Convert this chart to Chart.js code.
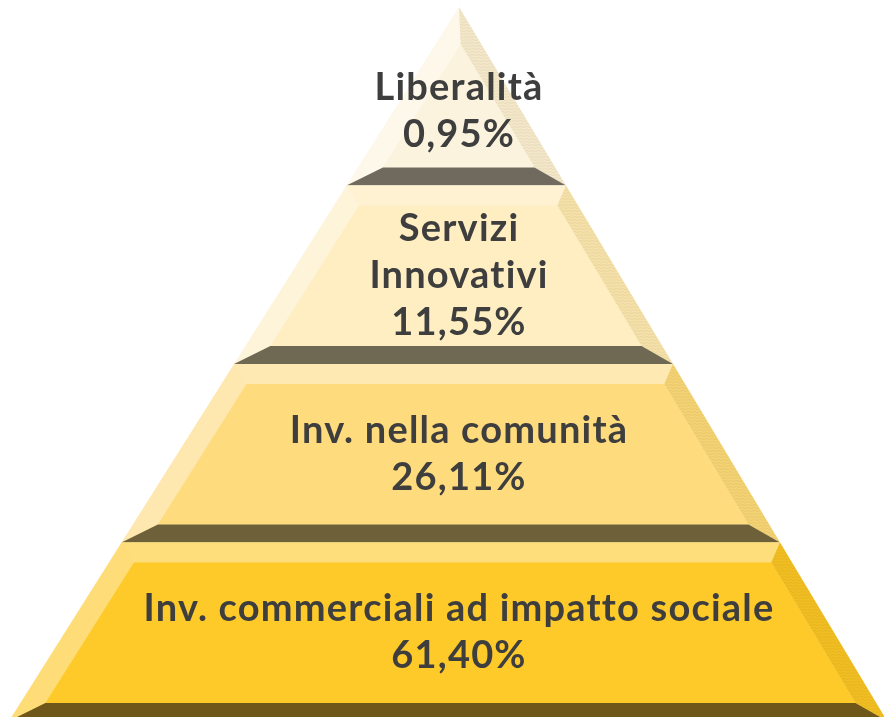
<!DOCTYPE html>
<html>
<head>
<meta charset="utf-8">
<script src="https://cdn.jsdelivr.net/npm/chart.js@4/dist/chart.umd.min.js"></script>
<style>
  html, body { margin: 0; padding: 0; background: #ffffff; }
  #wrap { width: 884px; height: 717px; position: relative; }
</style>
</head>
<body>
<div id="wrap"><canvas id="c"></canvas></div>
<script>
// ---- Data (top tier first) ----
const categories = ['Liberalità', 'Servizi Innovativi', 'Inv. nella comunità', 'Inv. commerciali ad impatto sociale'];
const labelLines = [['Liberalità'], ['Servizi', 'Innovativi'], ['Inv. nella comunità'], ['Inv. commerciali ad impatto sociale']];
const shares = [0.95, 11.55, 26.11, 61.40];

// ---- Styles per tier ----
const edgeColors  = ['#FEF8EB', '#FEF4DA', '#FEE8AF', '#FEDD78'];
const stripColors = ['#FEF8EB', '#FEF2D3', '#FEE9B2', '#FEDE7B'];
const faceColors  = ['#FCF3DE', '#FEEEC1', '#FEDB7D', '#FDCA2A'];
const sideColors  = ['#F3E7CA', '#F4E0A9', '#F3D274', '#F0BD22'];
const bandColors  = ['#6F6A5D', '#6F6852', '#6E6139', '#6E5718'];

// ---- Geometry constants (data units) ----
const TIERS = categories.length;
const LEFT_SPAN = 1.0, RIGHT_SPAN = 0.951;
const BAND = 0.101, STRIP = 0.112, INSET_L = 0.0556, INSET_R = 0.046;

const xL = y => -(TIERS - y) / TIERS * LEFT_SPAN;
const xR = y => (TIERS - y) / TIERS * RIGHT_SPAN;

function hatch(base) {
  const c = document.createElement('canvas');
  c.width = 6; c.height = 6;
  const g = c.getContext('2d');
  g.fillStyle = base; g.fillRect(0, 0, 6, 6);
  g.strokeStyle = 'rgba(120,90,20,0.07)';
  g.lineWidth = 1;
  g.beginPath(); g.moveTo(0, 1.5); g.lineTo(6, 0.5); g.moveTo(0, 4.5); g.lineTo(6, 3.5); g.stroke();
  return g.createPattern(c, 'repeat');
}

const polys = [];
function addPoly(pts, color) {
  polys.push({
    data: pts.map(p => ({x: p[0], y: p[1]})),
    showLine: true, fill: 'shape', backgroundColor: color,
    borderWidth: 0, borderColor: 'rgba(0,0,0,0)', pointRadius: 0, tension: 0, clip: false
  });
}

const textCenters = [];
for (let t = 0; t < TIERS; t++) {
  const yt = TIERS - t, yb = TIERS - t - 1, ybh = yb + BAND;
  let innerTopL, innerTopR, yts;
  if (t === 0) {
    yts = TIERS - (INSET_L + INSET_R) / ((LEFT_SPAN + RIGHT_SPAN) / TIERS);
    const ax = xL(yts) + INSET_L;
    innerTopL = [ax, yts]; innerTopR = [ax, yts];
  } else {
    yts = yt - STRIP;
    innerTopL = [xL(yts) + INSET_L, yts];
    innerTopR = [xR(yts) - INSET_R, yts];
  }
  const innerBotL = [xL(ybh) + INSET_L, ybh];
  const innerBotR = [xR(ybh) - INSET_R, ybh];
  addPoly([[xL(yt), yt], [xR(yt), yt], [xR(yb), yb], [xL(yb), yb], [xL(yt), yt]], edgeColors[t]);
  if (t > 0) addPoly([[xL(yt), yt], [xR(yt), yt], innerTopR, innerTopL, [xL(yt), yt]], stripColors[t]);
  addPoly([[xR(yt), yt], [xR(yb), yb], innerBotR, innerTopR, [xR(yt), yt]], hatch(sideColors[t]));
  addPoly([innerTopL, innerTopR, innerBotR, innerBotL, innerTopL], faceColors[t]);
  addPoly([innerBotL, innerBotR, [xR(yb), yb], [xL(yb), yb], innerBotL], bandColors[t]);
  const frac = t === 0 ? 0.46 : 0.5;
  textCenters.push(ybh + (yts - ybh) * frac);
}
const datasets = polys.slice().reverse();

const fmt = v => v.toFixed(2).replace('.', ',') + '%';

const labelPlugin = {
  id: 'tierLabels',
  afterDatasetsDraw(chart) {
    const {ctx, scales: {x, y}} = chart;
    ctx.save();
    ctx.font = 'bold 38px Lato';
    try { ctx.letterSpacing = '1.2px'; } catch (e) {}
    ctx.fillStyle = '#3E3E3E';
    ctx.textAlign = 'center';
    ctx.textBaseline = 'middle';
    const lh = 47;
    for (let t = 0; t < TIERS; t++) {
      const lines = labelLines[t].concat([fmt(shares[t])]);
      const cy = y.getPixelForValue(textCenters[t]);
      const cx = x.getPixelForValue(0);
      const start = cy - (lines.length - 1) * lh / 2;
      lines.forEach((ln, i) => ctx.fillText(ln, cx, start + i * lh));
    }
    ctx.restore();
  }
};

new Chart(document.getElementById('c'), {
  type: 'scatter',
  data: { datasets },
  options: {
    responsive: true,
    maintainAspectRatio: false,
    animation: false,
    events: [],
    layout: { padding: { top: 7, left: 0, right: 0, bottom: 0 } },
    scales: {
      x: { type: 'linear', display: false, min: -1.02, max: 0.9444 },
      y: { type: 'linear', display: false, min: 0.0224, max: 4 }
    },
    plugins: { legend: { display: false }, tooltip: { enabled: false } }
  },
  plugins: [labelPlugin]
});
</script>
</body>
</html>
